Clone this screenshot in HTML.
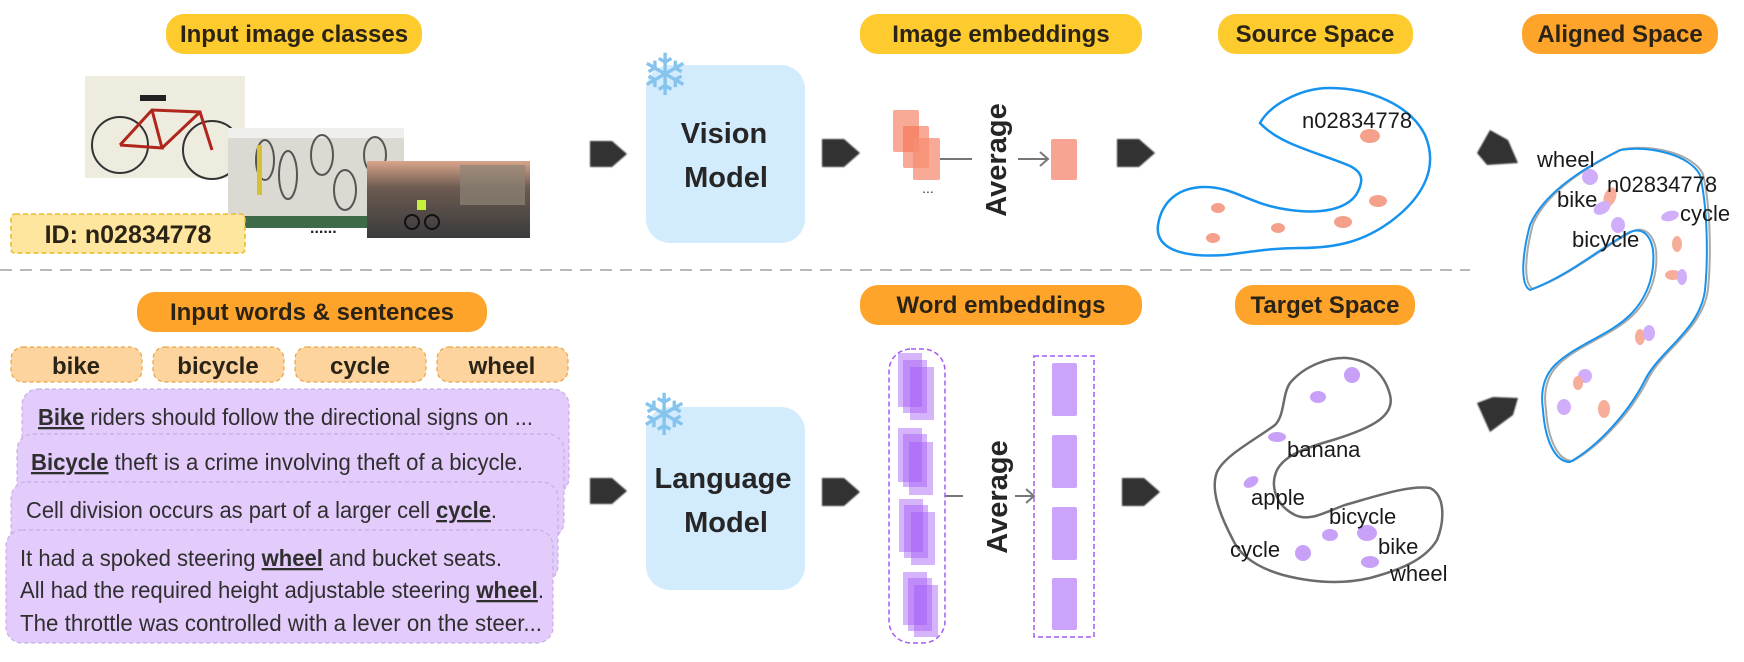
<!DOCTYPE html>
<html><head><meta charset="utf-8"><style>
html,body{margin:0;padding:0;background:#fff;}
svg{display:block;}
text{font-family:"Liberation Sans","DejaVu Sans",sans-serif;}
.b{font-weight:bold;fill:#2a2316;}
.t{fill:#1a1a1a;font-size:22px;}
.s{fill:#2f2f2f;font-size:23px;}
.w{fill:#A259F7;opacity:0.45;}
</style></head><body>
<svg width="1744" height="662" viewBox="0 0 1744 662" xmlns="http://www.w3.org/2000/svg">
<defs>
<filter id="sh" x="-30%" y="-30%" width="160%" height="160%"><feGaussianBlur stdDeviation="0.8"/></filter>
<linearGradient id="g3" x1="0" y1="0" x2="0" y2="1"><stop offset="0" stop-color="#d9a58a"/><stop offset="0.35" stop-color="#6b5a50"/><stop offset="1" stop-color="#3b3b3d"/></linearGradient>
</defs>

<!-- Top pills -->
<rect x="166" y="14" width="256" height="40" rx="18" fill="#FECB2F"/>
<text x="294" y="42" class="b" font-size="24" text-anchor="middle">Input image classes</text>
<rect x="860" y="14" width="282" height="40" rx="18" fill="#FECB2F"/>
<text x="1001" y="42" class="b" font-size="24" text-anchor="middle">Image embeddings</text>
<rect x="1218" y="14" width="195" height="40" rx="18" fill="#FECB2F"/>
<text x="1315" y="42" class="b" font-size="24" text-anchor="middle">Source Space</text>
<rect x="1522" y="14" width="196" height="40" rx="18" fill="#FFA42B"/>
<text x="1620" y="42" class="b" font-size="24" text-anchor="middle">Aligned Space</text>

<!-- images -->
<rect x="85" y="76" width="160" height="102" fill="#EEEBDF"/>
<g fill="none" stroke="#333" stroke-width="2">
<circle cx="120" cy="145" r="28"/><circle cx="212" cy="150" r="29"/>
</g>
<path d="M120,145 L152,110 L200,112 L212,150 M152,110 L162,148 L120,145 M162,148 L200,112" stroke="#b0261c" stroke-width="3" fill="none"/>
<rect x="140" y="95" width="26" height="6" fill="#222"/>
<rect x="228" y="128" width="176" height="100" fill="#DCD9D2"/>
<rect x="228" y="128" width="176" height="10" fill="#efefed"/>
<g fill="none" stroke="#555" stroke-width="2">
<ellipse cx="265" cy="160" rx="9" ry="20"/><ellipse cx="288" cy="175" rx="9" ry="24"/><ellipse cx="322" cy="155" rx="11" ry="20"/><ellipse cx="345" cy="190" rx="11" ry="20"/><ellipse cx="375" cy="155" rx="11" ry="18"/>
</g>
<rect x="257" y="145" width="5" height="50" fill="#d8c033"/>
<rect x="228" y="216" width="176" height="12" fill="#3f6a4a"/>
<rect x="367" y="161" width="163" height="77" fill="url(#g3)"/>
<rect x="460" y="165" width="65" height="40" fill="#8e8576" opacity="0.7"/>
<circle cx="412" cy="222" r="7" fill="none" stroke="#111" stroke-width="2"/><circle cx="432" cy="222" r="7" fill="none" stroke="#111" stroke-width="2"/>
<rect x="417" y="200" width="9" height="10" fill="#c8ef3b"/>
<text x="310" y="233" font-size="16" fill="#222" font-weight="bold">......</text>

<rect x="11" y="214" width="234" height="39" rx="4" fill="#FFE69F" stroke="#E6BE2A" stroke-width="1.5" stroke-dasharray="5,3"/>
<text x="128" y="243" class="b" font-size="25" text-anchor="middle">ID: n02834778</text>

<!-- Vision model -->
<rect x="646" y="65" width="159" height="178" rx="24" fill="#D2EBFD"/>
<text x="665" y="95" font-size="58" fill="#86C4EE" text-anchor="middle" font-family="DejaVu Sans">❄</text>
<text x="724" y="143" class="b" font-size="29" text-anchor="middle" style="fill:#262626">Vision</text>
<text x="726" y="187" class="b" font-size="29" text-anchor="middle" style="fill:#262626">Model</text>

<!-- arrows -->
<g fill="#333" filter="url(#sh)">
<path d="M590,141 h22 l15,13 l-15,13 h-22 z"/>
<path d="M822,139 h22 l16,14 l-16,14 h-22 z"/>
<path d="M1117,139 h22 l16,14 l-16,14 h-22 z"/>
<path d="M590,478 h22 l15,13 l-15,13 h-22 z"/>
<path d="M822,478 h22 l16,14 l-16,14 h-22 z"/>
<path d="M1122,478 h22 l16,14 l-16,14 h-22 z"/>
<path d="M1477,153 L1490,130 L1508,140 L1518,163 L1487,165 Z"/>
<path d="M1477,403 L1493,397 L1518,398 L1513,415 L1490,432 Z"/>
</g>

<!-- image embeddings -->
<rect x="893" y="110" width="26" height="42" rx="2" fill="#F58D74" opacity="0.75"/>
<rect x="903" y="126" width="26" height="42" rx="2" fill="#F3704F" opacity="0.6"/>
<rect x="913" y="138" width="27" height="42" rx="2" fill="#F58D74" opacity="0.75"/>
<text x="928" y="193" font-size="14" fill="#333" text-anchor="middle">...</text>
<line x1="940" y1="159" x2="972" y2="159" stroke="#777" stroke-width="2"/>
<text transform="translate(1006,160) rotate(-90)" class="b" font-size="29" text-anchor="middle" style="fill:#262626">Average</text>
<line x1="1018" y1="159" x2="1048" y2="159" stroke="#777" stroke-width="2"/>
<path d="M1040,152 L1048,159 L1040,166" stroke="#777" stroke-width="2" fill="none"/>
<rect x="1051" y="139" width="26" height="41" rx="2" fill="#F7A592"/>

<!-- source space -->
<path d="M1260,123 C1270,105 1300,88 1330,88 C1370,88 1410,105 1425,135 C1440,170 1420,200 1390,222 C1365,240 1340,248 1300,248 C1270,248 1250,252 1225,255 C1180,258 1155,248 1158,225 C1162,200 1180,187 1205,187 C1235,187 1250,205 1290,210 C1320,214 1345,210 1356,195 C1365,180 1362,172 1350,166 C1320,153 1280,145 1260,123 Z" fill="none" stroke="#1693EE" stroke-width="2.5"/>
<text x="1302" y="128" class="t">n02834778</text>
<g fill="#F5A08A">
<ellipse cx="1370" cy="136" rx="10" ry="7"/><ellipse cx="1378" cy="201" rx="9" ry="6"/><ellipse cx="1343" cy="222" rx="9" ry="6"/>
<ellipse cx="1218" cy="208" rx="7" ry="5"/><ellipse cx="1213" cy="238" rx="7" ry="5"/><ellipse cx="1278" cy="228" rx="7" ry="5"/>
</g>

<!-- dashed divider -->
<line x1="0" y1="270" x2="1470" y2="270" stroke="#b9b9b9" stroke-width="2" stroke-dasharray="12,8"/>

<!-- bottom pills -->
<rect x="137" y="292" width="350" height="40" rx="18" fill="#FFA42B"/>
<text x="312" y="320" class="b" font-size="24" text-anchor="middle">Input words &amp; sentences</text>
<rect x="860" y="285" width="282" height="40" rx="18" fill="#FFA42B"/>
<text x="1001" y="313" class="b" font-size="24" text-anchor="middle">Word embeddings</text>
<rect x="1235" y="285" width="180" height="40" rx="18" fill="#FFA42B"/>
<text x="1325" y="313" class="b" font-size="24" text-anchor="middle">Target Space</text>

<!-- word pills -->
<g fill="#FDD39E" stroke="#E8A548" stroke-width="1.2" stroke-dasharray="4,3">
<rect x="11" y="347" width="131" height="35" rx="12"/>
<rect x="153" y="347" width="131" height="35" rx="12"/>
<rect x="295" y="347" width="131" height="35" rx="12"/>
<rect x="437" y="347" width="131" height="35" rx="12"/>
</g>
<text x="76" y="374" class="b" font-size="24" text-anchor="middle">bike</text>
<text x="218" y="374" class="b" font-size="24" text-anchor="middle">bicycle</text>
<text x="360" y="374" class="b" font-size="24" text-anchor="middle">cycle</text>
<text x="502" y="374" class="b" font-size="24" text-anchor="middle">wheel</text>

<!-- sentence cards -->
<g fill="#E3CBFB" stroke="#C7AEE4" stroke-width="1.2" stroke-dasharray="4,3">
<rect x="22" y="389" width="547" height="105" rx="16"/>
<rect x="17" y="434" width="547" height="104" rx="16"/>
<rect x="11" y="482" width="547" height="100" rx="16"/>
<rect x="6" y="530" width="547" height="113" rx="16"/>
</g>
<text x="38" y="425" class="s" textLength="495" lengthAdjust="spacingAndGlyphs"><tspan font-weight="bold" text-decoration="underline">Bike</tspan> riders should follow the directional signs on ...</text>
<text x="31" y="470" class="s" textLength="492" lengthAdjust="spacingAndGlyphs"><tspan font-weight="bold" text-decoration="underline">Bicycle</tspan> theft is a crime involving theft of a bicycle.</text>
<text x="26" y="518" class="s" textLength="471" lengthAdjust="spacingAndGlyphs">Cell division occurs as part of a larger cell <tspan font-weight="bold" text-decoration="underline">cycle</tspan>.</text>
<text x="20" y="566" class="s" textLength="482" lengthAdjust="spacingAndGlyphs">It had a spoked steering <tspan font-weight="bold" text-decoration="underline">wheel</tspan> and bucket seats.</text>
<text x="20" y="598" class="s" textLength="524" lengthAdjust="spacingAndGlyphs">All had the required height adjustable steering <tspan font-weight="bold" text-decoration="underline">wheel</tspan>.</text>
<text x="20" y="631" class="s" textLength="522" lengthAdjust="spacingAndGlyphs">The throttle was controlled with a lever on the steer...</text>

<!-- language model -->
<rect x="646" y="407" width="159" height="183" rx="24" fill="#D2EBFD"/>
<text x="664" y="435" font-size="58" fill="#86C4EE" text-anchor="middle" font-family="DejaVu Sans">❄</text>
<text x="723" y="488" class="b" font-size="29" text-anchor="middle" style="fill:#262626">Language</text>
<text x="726" y="532" class="b" font-size="29" text-anchor="middle" style="fill:#262626">Model</text>

<!-- word embeddings -->
<rect x="889" y="349" width="56" height="294" rx="22" fill="none" stroke="#A45CF5" stroke-width="1.5" stroke-dasharray="5,3"/>
<rect class="w" x="898" y="353" width="24" height="54"/><rect class="w" x="903" y="360" width="24" height="53"/><rect class="w" x="910" y="367" width="24" height="53"/>
<rect class="w" x="898" y="428" width="24" height="54"/><rect class="w" x="903" y="434" width="24" height="53"/><rect class="w" x="909" y="442" width="24" height="53"/>
<rect class="w" x="899" y="499" width="24" height="53"/><rect class="w" x="904" y="505" width="24" height="53"/><rect class="w" x="911" y="512" width="24" height="53"/>
<rect class="w" x="903" y="572" width="24" height="53"/><rect class="w" x="908" y="578" width="24" height="53"/><rect class="w" x="914" y="585" width="24" height="52"/>
<line x1="945" y1="496" x2="963" y2="496" stroke="#777" stroke-width="2"/>
<text transform="translate(1007,497) rotate(-90)" class="b" font-size="29" text-anchor="middle" style="fill:#262626">Average</text>
<line x1="1015" y1="496" x2="1034" y2="496" stroke="#777" stroke-width="2"/>
<path d="M1026,489 L1034,496 L1026,503" stroke="#777" stroke-width="2" fill="none"/>
<rect x="1034" y="356" width="60" height="281" fill="none" stroke="#A45CF5" stroke-width="1.5" stroke-dasharray="5,3"/>
<g fill="#CBA3FA">
<rect x="1052" y="363" width="25" height="53" rx="2"/><rect x="1052" y="435" width="25" height="53" rx="2"/>
<rect x="1052" y="507" width="25" height="53" rx="2"/><rect x="1052" y="578" width="25" height="52" rx="2"/>
</g>

<!-- target space -->
<path d="M1347,358 C1370,360 1385,375 1390,395 C1395,415 1375,427 1333,440 C1305,448 1285,455 1277,470 C1270,485 1275,505 1295,515 C1310,522 1325,512 1345,505 C1380,495 1410,485 1430,488 C1445,495 1445,520 1437,540 C1425,560 1400,570 1370,578 C1340,585 1310,582 1283,575 C1255,567 1240,555 1233,540 C1220,515 1210,490 1217,472 C1225,455 1255,440 1275,425 C1285,415 1282,395 1290,383 C1305,365 1330,357 1347,358 Z" fill="none" stroke="#6b6b6b" stroke-width="2.5"/>
<g fill="#C9A0F8">
<ellipse cx="1352" cy="375" rx="8" ry="8"/><ellipse cx="1318" cy="397" rx="8" ry="6"/><ellipse cx="1277" cy="437" rx="9" ry="5"/>
<ellipse cx="1251" cy="482" rx="8" ry="5" transform="rotate(-30 1251 482)"/><ellipse cx="1303" cy="553" rx="8" ry="8"/>
<ellipse cx="1330" cy="535" rx="8" ry="6"/><ellipse cx="1367" cy="533" rx="10" ry="8"/><ellipse cx="1370" cy="562" rx="9" ry="6"/>
</g>
<text x="1287" y="457" class="t">banana</text>
<text x="1251" y="505" class="t">apple</text>
<text x="1329" y="524" class="t">bicycle</text>
<text x="1230" y="557" class="t">cycle</text>
<text x="1378" y="554" class="t">bike</text>
<text x="1390" y="581" class="t">wheel</text>

<!-- aligned space -->
<path d="M1546,410 C1543,390 1548,375 1558,365 C1578,345 1613,335 1633,315 C1653,295 1658,270 1656,250 C1653,232 1643,227 1633,231 C1603,247 1573,274 1533,289 C1523,284 1525,254 1533,224 C1548,189 1593,164 1623,149 C1653,144 1693,154 1703,174 C1711,209 1711,259 1708,289 C1703,329 1663,349 1648,379 C1633,409 1603,444 1573,461 C1558,461 1548,440 1546,410 Z" fill="none" stroke="#a9a9a9" stroke-width="2"/>
<path d="M1543,410 C1540,390 1545,375 1555,365 C1575,345 1610,335 1630,315 C1650,295 1655,270 1653,250 C1650,232 1640,228 1630,232 C1600,248 1570,275 1530,290 C1520,285 1522,255 1530,225 C1545,190 1590,165 1620,150 C1650,145 1690,155 1700,175 C1708,210 1708,260 1705,290 C1700,330 1660,350 1645,380 C1630,410 1600,445 1570,462 C1555,462 1545,440 1543,410 Z" fill="none" stroke="#1693EE" stroke-width="2"/>
<g opacity="0.85">
<ellipse cx="1590" cy="177" rx="8" ry="8" fill="#C9A0F8"/>
<ellipse cx="1610" cy="197" rx="6" ry="10" fill="#F5A08A" transform="rotate(20 1610 197)"/>
<ellipse cx="1602" cy="208" rx="9" ry="6" fill="#C9A0F8" transform="rotate(-30 1602 208)"/>
<ellipse cx="1618" cy="225" rx="7" ry="8" fill="#C9A0F8"/>
<ellipse cx="1670" cy="216" rx="9" ry="5" fill="#C9A0F8" transform="rotate(-15 1670 216)"/>
<ellipse cx="1677" cy="244" rx="5" ry="8" fill="#F5A08A"/>
<ellipse cx="1673" cy="275" rx="8" ry="5" fill="#F5A08A"/>
<ellipse cx="1682" cy="277" rx="5" ry="8" fill="#C9A0F8"/>
<ellipse cx="1640" cy="337" rx="5" ry="8" fill="#F5A08A"/>
<ellipse cx="1649" cy="333" rx="6" ry="8" fill="#C9A0F8"/>
<ellipse cx="1585" cy="376" rx="7" ry="7" fill="#C9A0F8"/>
<ellipse cx="1578" cy="383" rx="5" ry="7" fill="#F5A08A"/>
<ellipse cx="1564" cy="407" rx="7" ry="8" fill="#C9A0F8"/>
<ellipse cx="1604" cy="409" rx="6" ry="9" fill="#F5A08A"/>
</g>
<text x="1537" y="167" class="t">wheel</text>
<text x="1557" y="207" class="t">bike</text>
<text x="1607" y="192" class="t">n02834778</text>
<text x="1680" y="221" class="t">cycle</text>
<text x="1572" y="247" class="t">bicycle</text>
</svg>
</body></html>
